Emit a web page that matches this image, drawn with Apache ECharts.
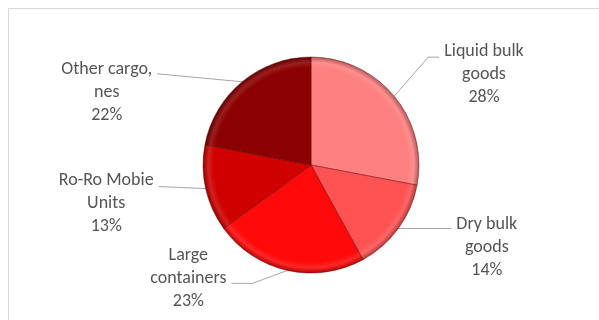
<!DOCTYPE html>
<html>
<head>
<meta charset="utf-8">
<script src="https://cdn.jsdelivr.net/npm/echarts@6/dist/echarts.min.js"></script>
<style>
  html, body { margin: 0; padding: 0; background: #fff; }
  #frame { position: absolute; left: 8px; top: 8px; width: 700px; height: 400px;
           border-left: 1px solid #d9d9d9; border-top: 1px solid #d9d9d9; }
  #chart { position: absolute; left: 0; top: 0; width: 599px; height: 320px; }
</style>
</head>
<body>
<div id="frame"></div>
<div id="chart"></div>
<script>
// Cargo types and their share of total throughput (%)
const categories = ['Liquid bulk\ngoods', 'Dry bulk\ngoods', 'Large\ncontainers', 'Ro-Ro Mobie\nUnits', 'Other cargo,\nnes'];
const shares = [28, 14, 23, 13, 22];

// Slice fill colours
const sliceColors = ['#ff8080', '#ff5252', '#ff0a0a', '#d00000', '#8b0000'];

// Pie geometry (pixels)
const PIE_CX = 311, PIE_CY = 165, PIE_R = 108;

// Leader-line shape per slice: elbow offset from the rim, horizontal tail, label vertical shift
const guides = [
  { ex: 34,  ey: -39, tail: 11,  dy: 17 },
  { ex: 0,   ey: 0,   tail: 53,  dy: 19 },
  { ex: -35, ey: 13,  tail: -21, dy: -5 },
  { ex: -47, ey: -2,  tail: 0,   dy: 17 },
  { ex: -85, ey: -8,  tail: 0,   dy: 19 }
];
const LABEL_GAP = 5;

function shade(hex, f) {
  const n = parseInt(hex.slice(1), 16);
  let r = (n >> 16) & 255, g = (n >> 8) & 255, b = n & 255;
  if (f >= 0) { r += (255 - r) * f; g += (255 - g) * f; b += (255 - b) * f; }
  else { r *= 1 + f; g *= 1 + f; b *= 1 + f; }
  return 'rgb(' + Math.round(r) + ',' + Math.round(g) + ',' + Math.round(b) + ')';
}

// Rim point at the middle angle of each slice
const total = shares.reduce((a, b) => a + b, 0);
const rimPoints = [];
let acc = 0;
shares.forEach(v => {
  const a = (90 - 360 * (acc + v / 2) / total) * Math.PI / 180;
  rimPoints.push([PIE_CX + PIE_R * Math.cos(a), PIE_CY - PIE_R * Math.sin(a)]);
  acc += v;
});

const chart = echarts.init(document.getElementById('chart'), null, { renderer: 'canvas' });

const data = categories.map((name, i) => ({
  name: name,
  value: shares[i],
  itemStyle: {
    color: {
      type: 'radial', x: PIE_CX, y: PIE_CY, r: PIE_R, global: true,
      colorStops: [
        { offset: 0, color: sliceColors[i] },
        { offset: 0.9, color: sliceColors[i] },
        { offset: 0.95, color: shade(sliceColors[i], 0.12) },
        { offset: 1, color: shade(sliceColors[i], -0.3) }
      ]
    }
  }
}));

chart.setOption({
  backgroundColor: 'transparent',
  animation: false,
  series: [{
    type: 'pie',
    center: [PIE_CX, PIE_CY],
    radius: PIE_R,
    startAngle: 90,
    clockwise: true,
    data: data,
    itemStyle: { borderColor: 'rgba(90,0,0,0.45)', borderWidth: 1 },
    label: {
      show: true,
      position: 'outside',
      formatter: '{b}\n{d}%',
      fontFamily: 'Carlito, Lato, "Open Sans", sans-serif',
      fontSize: 18,
      lineHeight: 23,
      color: '#555555',
      align: 'center'
    },
    labelLine: {
      show: true,
      length: 10,
      length2: 10,
      lineStyle: { color: '#a6a6a6', width: 1 }
    },
    labelLayout: function (params) {
      const i = params.dataIndex;
      const g = guides[i];
      const p0 = rimPoints[i];
      const p1 = [p0[0] + g.ex, p0[1] + g.ey];
      const p2 = [p1[0] + g.tail, p1[1]];
      const side = (p2[0] >= PIE_CX) ? 1 : -1;
      const w = params.labelRect.width;
      return {
        x: p2[0] + side * (LABEL_GAP + w / 2),
        y: p2[1] + g.dy,
        align: 'center',
        verticalAlign: 'middle',
        labelLinePoints: [p0, p1, p2]
      };
    }
  }]
});
</script>
</body>
</html>
